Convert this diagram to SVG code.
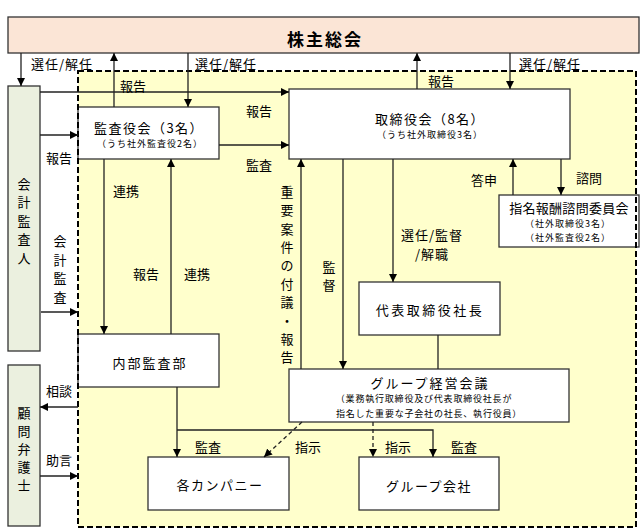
<svg xmlns="http://www.w3.org/2000/svg" width="640" height="529" viewBox="0 0 640 529">
<defs>
<marker id="arr" markerUnits="userSpaceOnUse" markerWidth="9" markerHeight="8" refX="8" refY="4" orient="auto"><path d="M0,0 L8,4 L0,8 z" fill="#000"/></marker>
<style>
text{font-family:"Noto Sans CJK JP","Noto Sans",sans-serif;fill:#000;text-anchor:middle;dominant-baseline:central}
.box{fill:#fff;stroke:#333;stroke-width:1.3}
.side{fill:#EBF0DF;stroke:#333;stroke-width:1.3}
.t{font-size:13px;letter-spacing:1.5px}
.s{font-size:9px;letter-spacing:1px}
.l{font-size:13px}
.c{fill:none;stroke:#222;stroke-width:1.3}
.d{fill:none;stroke:#222;stroke-width:1.3;stroke-dasharray:4,3}
</style>
</defs>
<rect x="0" y="0" width="640" height="529" fill="#fff"/>
<rect id="region" x="78" y="71" width="558" height="456" fill="#FFFFCC"/>

<g id="kabunushi"><rect x="8" y="17" width="631" height="36" fill="#FBE5D6" stroke="#333" stroke-width="1.3"/><text x="325" y="38" style="font-size:17px;font-weight:bold;letter-spacing:2px">株主総会</text></g>

<g id="kaikei"><rect class="side" x="8" y="86" width="32" height="265"/>
<text class="l" x="24" y="183">会</text><text class="l" x="24" y="201">計</text><text class="l" x="24" y="220">監</text><text class="l" x="24" y="238">査</text><text class="l" x="24" y="257">人</text></g>

<g id="komon"><rect class="side" x="8" y="365" width="32" height="161"/>
<text class="l" x="24" y="412">顧</text><text class="l" x="24" y="430">問</text><text class="l" x="24" y="448">弁</text><text class="l" x="24" y="466">護</text><text class="l" x="24" y="484">士</text></g>

<g id="kansayaku"><rect class="box" x="78" y="107" width="141" height="52"/><text class="t" x="149" y="127">監査役会（3名）</text><text class="s" x="150" y="143">（うち社外監査役2名）</text></g>

<g id="torishimari"><rect class="box" x="289" y="89" width="281" height="70"/><text class="t" x="430" y="118">取締役会（8名）</text><text class="s" x="430" y="134">（うち社外取締役3名）</text></g>

<g id="shimei"><rect class="box" x="499" y="195" width="140" height="52"/><text class="t" x="569" y="207" style="letter-spacing:0.3px">指名報酬諮問委員会</text><text class="s" x="568" y="223">（社外取締役3名）</text><text class="s" x="568" y="237">（社外監査役2名）</text></g>

<g id="daihyo"><rect class="box" x="359" y="282" width="141" height="53"/><text class="t" x="430" y="309" style="letter-spacing:2.5px">代表取締役社長</text></g>

<g id="naibu"><rect class="box" x="78" y="334" width="141" height="53"/><text class="t" x="150" y="362" style="letter-spacing:2px">内部監査部</text></g>

<g id="group_kaigi"><rect class="box" x="289" y="369" width="280" height="53"/><text class="t" x="430" y="382" style="letter-spacing:2px">グループ経営会議</text><text class="s" x="424" y="398" style="letter-spacing:0.8px">（業務執行取締役及び代表取締役社長が</text><text class="s" x="429" y="413" style="letter-spacing:0.8px">指名した重要な子会社の社長、執行役員）</text></g>

<g id="company"><rect class="box" x="148" y="457" width="141" height="53"/><text class="t" x="220" y="484" style="letter-spacing:1.5px">各カンパニー</text></g>

<g id="group_co"><rect class="box" x="359" y="457" width="140" height="53"/><text class="t" x="429" y="485" style="letter-spacing:1.5px">グループ会社</text></g>

<rect x="78" y="71" width="558" height="456" fill="none" stroke="#000" stroke-width="2" stroke-dasharray="6,3"/>

<g id="connectors">
<path class="c" d="M21,53 V86" marker-end="url(#arr)"/>
<path class="c" d="M114,107 V53" marker-end="url(#arr)"/>
<path class="c" d="M188,53 V107" marker-end="url(#arr)"/>
<path class="c" d="M417,89 V53" marker-end="url(#arr)"/>
<path class="c" d="M510,53 V89" marker-end="url(#arr)"/>
<path class="c" d="M40,92 H289" marker-end="url(#arr)"/>
<path class="c" d="M40,135 H78" marker-end="url(#arr)"/>
<path class="c" d="M219,145 H289" marker-end="url(#arr)"/>
<path class="c" d="M104,159 V334" marker-end="url(#arr)"/>
<path class="c" d="M171,334 V159" marker-end="url(#arr)"/>
<path class="c" d="M41,312 H78" marker-end="url(#arr)"/>
<path class="c" d="M301,369 V159" marker-end="url(#arr)"/>
<path class="c" d="M343,159 V369" marker-end="url(#arr)"/>
<path class="c" d="M393,159 V282" marker-end="url(#arr)"/>
<path class="c" d="M438,335 V369"/>
<path class="c" d="M513,195 V159" marker-end="url(#arr)"/>
<path class="c" d="M561,159 V195" marker-end="url(#arr)"/>
<path class="c" d="M177,387 V457" marker-end="url(#arr)"/>
<path class="c" d="M177,430 H433 V457" marker-end="url(#arr)"/>
<path class="d" d="M302,422 L264,457" marker-end="url(#arr)"/>
<path class="d" d="M373,422 V457" marker-end="url(#arr)"/>
<path class="c" d="M78,407 H40" marker-end="url(#arr)"/>
<path class="c" d="M40,476 H78" marker-end="url(#arr)"/>

<text class="l" x="62" y="63" style="letter-spacing:1px">選任/解任</text>
<text class="l" x="226" y="63" style="letter-spacing:1px">選任/解任</text>
<text class="l" x="550" y="63" style="letter-spacing:1px">選任/解任</text>
<text class="l" x="133" y="85">報告</text>
<text class="l" x="441" y="80">報告</text>
<text class="l" x="259" y="110">報告</text>
<text class="l" x="259" y="164">監査</text>
<text class="l" x="59" y="157">報告</text>
<text class="l" x="126" y="190">連携</text>
<text class="l" x="146" y="273">報告</text>
<text class="l" x="197" y="273">連携</text>
<text class="l" x="60" y="240">会</text><text class="l" x="60" y="259">計</text><text class="l" x="60" y="277">監</text><text class="l" x="60" y="296">査</text>
<text class="l" x="287" y="191">重</text><text class="l" x="287" y="209">要</text><text class="l" x="287" y="228">案</text><text class="l" x="287" y="246">件</text><text class="l" x="287" y="264">の</text><text class="l" x="287" y="283">付</text><text class="l" x="287" y="301">議</text><text class="l" x="287" y="320">・</text><text class="l" x="287" y="338">報</text><text class="l" x="287" y="356">告</text>
<text class="l" x="329" y="266">監</text><text class="l" x="329" y="284">督</text>
<text class="l" x="432" y="234" style="letter-spacing:1px">選任/監督</text>
<text class="l" x="432" y="253" style="letter-spacing:1px">/解職</text>
<text class="l" x="484" y="179">答申</text>
<text class="l" x="589" y="177">諮問</text>
<text class="l" x="208" y="446">監査</text>
<text class="l" x="308" y="446">指示</text>
<text class="l" x="398" y="446">指示</text>
<text class="l" x="464" y="446">監査</text>
<text class="l" x="59" y="390">相談</text>
<text class="l" x="59" y="459">助言</text>
</g>
</svg>
